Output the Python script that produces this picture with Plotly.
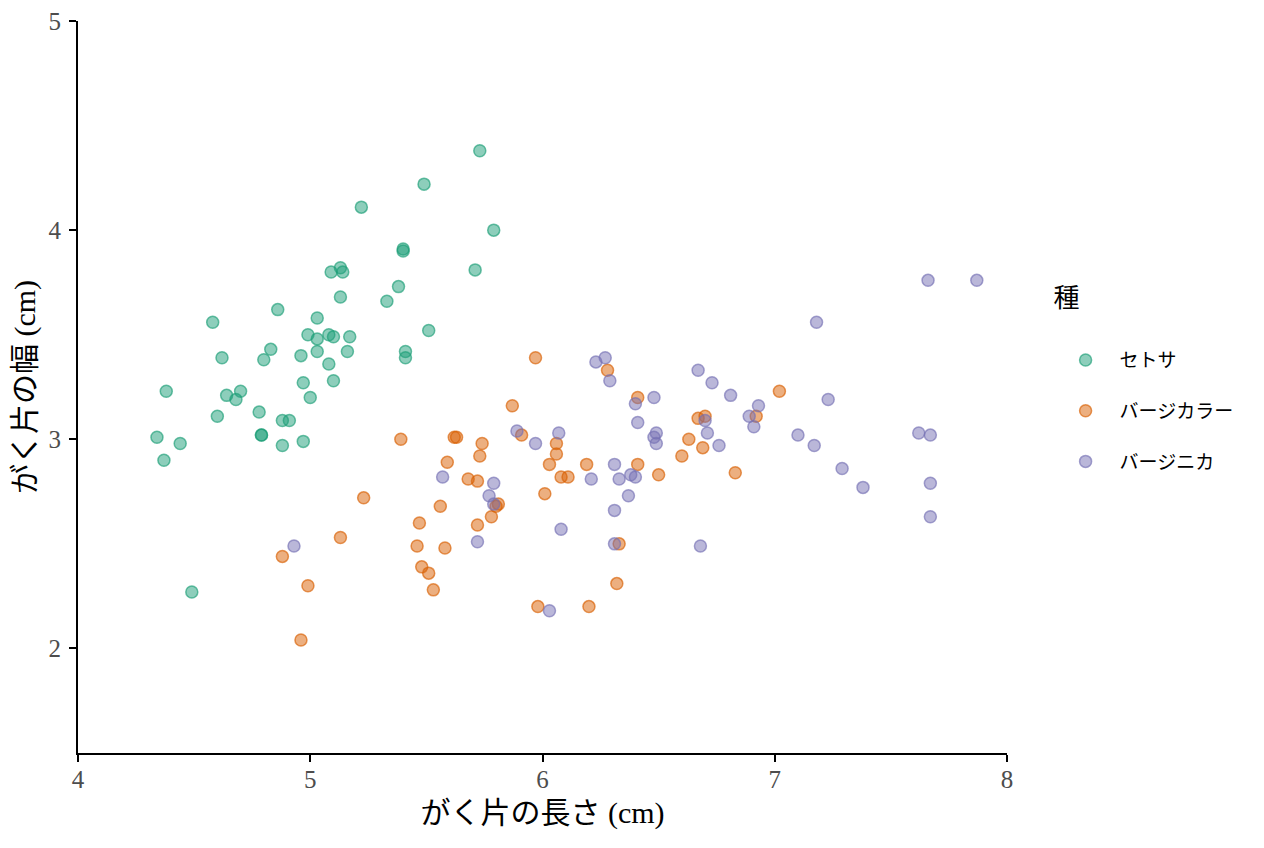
import plotly.graph_objects as go

# がく片の長さ / 幅 (cm)
setosa_x = [5.73, 5.49, 5.22, 5.79, 5.40, 5.40, 5.09, 5.13, 5.14, 5.71,
            5.13, 5.38, 5.33, 4.86, 4.58, 5.03, 4.99, 5.03, 5.08, 5.10,
            5.17, 5.51, 5.41, 5.41, 4.62, 4.83, 4.80, 4.96, 5.03, 5.16,
            5.08, 4.97, 5.10, 5.00, 4.38, 4.64, 4.70, 4.68, 4.60, 4.78,
            4.88, 4.91, 4.79, 4.79, 4.88, 4.97, 4.34, 4.44, 4.37, 4.49]
setosa_y = [4.38, 4.22, 4.11, 4.00, 3.91, 3.90, 3.80, 3.82, 3.80, 3.81,
            3.68, 3.73, 3.66, 3.62, 3.56, 3.58, 3.50, 3.48, 3.50, 3.49,
            3.49, 3.52, 3.42, 3.39, 3.39, 3.43, 3.38, 3.40, 3.42, 3.42,
            3.36, 3.27, 3.28, 3.20, 3.23, 3.21, 3.23, 3.19, 3.11, 3.13,
            3.09, 3.09, 3.02, 3.02, 2.97, 2.99, 3.01, 2.98, 2.90, 2.27]

versicolor_x = [5.97, 5.87, 5.91, 5.39, 5.62, 5.63, 5.74, 5.73, 5.59, 6.06,
                6.06, 6.03, 6.08, 6.11, 5.68, 5.72, 6.01, 5.23, 5.81, 5.80,
                5.78, 5.56, 5.47, 5.72, 5.13, 5.46, 5.58, 4.88, 5.48, 5.51,
                5.53, 4.99, 5.98, 4.96, 6.28, 6.41, 7.02, 6.19, 6.41, 6.50,
                6.63, 6.60, 6.69, 6.67, 6.70, 6.92, 6.83, 6.33, 6.32, 6.20]
versicolor_y = [3.39, 3.16, 3.02, 3.00, 3.01, 3.01, 2.98, 2.92, 2.89, 2.98,
                2.93, 2.88, 2.82, 2.82, 2.81, 2.80, 2.74, 2.72, 2.69, 2.68,
                2.63, 2.68, 2.60, 2.59, 2.53, 2.49, 2.48, 2.44, 2.39, 2.36,
                2.28, 2.30, 2.20, 2.04, 3.33, 3.20, 3.23, 2.88, 2.88, 2.83,
                3.00, 2.92, 2.96, 3.10, 3.11, 3.11, 2.84, 2.50, 2.31, 2.20]

virginica_x = [5.89, 5.97, 6.07, 5.57, 5.79, 5.77, 5.79, 6.08, 5.72, 4.93,
               6.03, 6.23, 6.27, 6.29, 6.40, 6.48, 6.41, 6.67, 6.73, 6.81,
               6.93, 6.89, 6.91, 6.70, 6.71, 6.76, 6.49, 6.48, 6.49, 6.31,
               6.21, 6.33, 6.38, 6.40, 6.37, 6.31, 6.31, 6.68, 7.10, 7.66,
               7.87, 7.18, 7.23, 7.17, 7.29, 7.38, 7.62, 7.67, 7.67, 7.67]
virginica_y = [3.04, 2.98, 3.03, 2.82, 2.79, 2.73, 2.69, 2.57, 2.51, 2.49,
               2.18, 3.37, 3.39, 3.28, 3.17, 3.20, 3.08, 3.33, 3.27, 3.21,
               3.16, 3.11, 3.06, 3.09, 3.03, 2.97, 3.03, 3.01, 2.98, 2.88,
               2.81, 2.81, 2.83, 2.82, 2.73, 2.66, 2.50, 2.49, 3.02, 3.76,
               3.76, 3.56, 3.19, 2.97, 2.86, 2.77, 3.03, 3.02, 2.79, 2.63]

species = ["セトサ", "バージカラー", "バージニカ"]
colors = ["27,158,119", "217,95,2", "117,112,179"]  # Dark2
xs = [setosa_x, versicolor_x, virginica_x]
ys = [setosa_y, versicolor_y, virginica_y]

fig = go.Figure()
for name, c, x, y in zip(species, colors, xs, ys):
    fig.add_trace(go.Scatter(
        x=x, y=y, mode="markers", name=name, legendgroup=name,
        marker=dict(size=12, color=f"rgba({c},0.5)",
                    line=dict(width=1.5, color=f"rgba({c},0.65)")),
    ))

serif = "Liberation Serif, Noto Sans CJK JP, serif"
cjk = "Noto Sans CJK JP, sans-serif"

axis_style = dict(
    showgrid=False, zeroline=False, showline=True, linecolor="black", linewidth=2,
    ticks="outside", ticklen=7, tickwidth=1.5, tickcolor="black",
    tickfont=dict(family=serif, size=25, color="#4d4d4d"),
    automargin=False, ticklabeloverflow="allow",
)

fig.update_xaxes(range=[4, 8], dtick=1, ticklabelstandoff=-4, **axis_style,
                 title=dict(text="がく片の長さ (cm)", standoff=10,
                            font=dict(family=serif, size=30, color="black")))
fig.update_yaxes(range=[1.5, 5], dtick=1, ticklabelstandoff=3, **axis_style,
                 title=dict(text="がく片の幅 (cm)", standoff=8,
                            font=dict(family=serif, size=30, color="black")))

# the page body adds ~8px, so margins are set 8px short on the top/left
fig.update_layout(
    width=1264, height=848,
    plot_bgcolor="white", paper_bgcolor="white",
    margin=dict(l=70, r=265, t=13, b=103, autoexpand=False),
    legend=dict(
        title=dict(text="種<br>", font=dict(family=cjk, size=26, color="black")),
        font=dict(family=cjk, size=19, color="black"),
        x=1.048, y=0.655, xanchor="left", yanchor="top",
        tracegroupgap=23, itemwidth=58,
    ),
)

fig.write_html("out.html")
